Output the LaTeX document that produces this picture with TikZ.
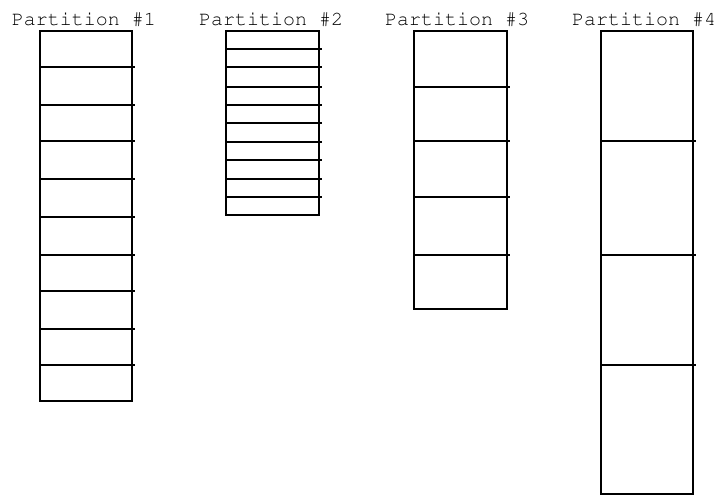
\documentclass[tikz,border=0pt]{standalone}
\usepackage[T1]{fontenc}
\newcommand{\courierfam}{\fontencoding{T1}\fontfamily{pcr}\fontseries{m}\fontshape{n}\selectfont}
\begin{document}
\begin{tikzpicture}[x=1pt,y=-1pt,
  box/.style={line width=1.4pt, draw=black},
  lbl/.style={font=\courierfam\fontsize{20}{20}\selectfont, inner sep=0pt, anchor=base}]
\useasboundingbox (0,0) rectangle (716,496);
% labels
\node[lbl] (l1) at (84,25) {Partition \#1};
\node[lbl] (l2) at (271,25) {Partition \#2};
\node[lbl] (l3) at (457,25) {Partition \#3};
\node[lbl] (l4) at (644,25) {Partition \#4};
% partition 1
\draw[box] (40,31) rectangle (132,401);
\foreach \y in {67,105,141,179,217,255,291,329,365}
  \draw[box] (40,\y) -- (135,\y);
% partition 2
\draw[box] (226,31) rectangle (319,215);
\foreach \y in {49,67,87,105,123,142,160,179,197}
  \draw[box] (226,\y) -- (322,\y);
% partition 3
\draw[box] (414,31) rectangle (507,309);
\foreach \y in {87,141,197,255}
  \draw[box] (414,\y) -- (510,\y);
% partition 4
\draw[box] (601,31) rectangle (693,494);
\foreach \y in {141,255,365}
  \draw[box] (601,\y) -- (696,\y);
\end{tikzpicture}
\end{document}
